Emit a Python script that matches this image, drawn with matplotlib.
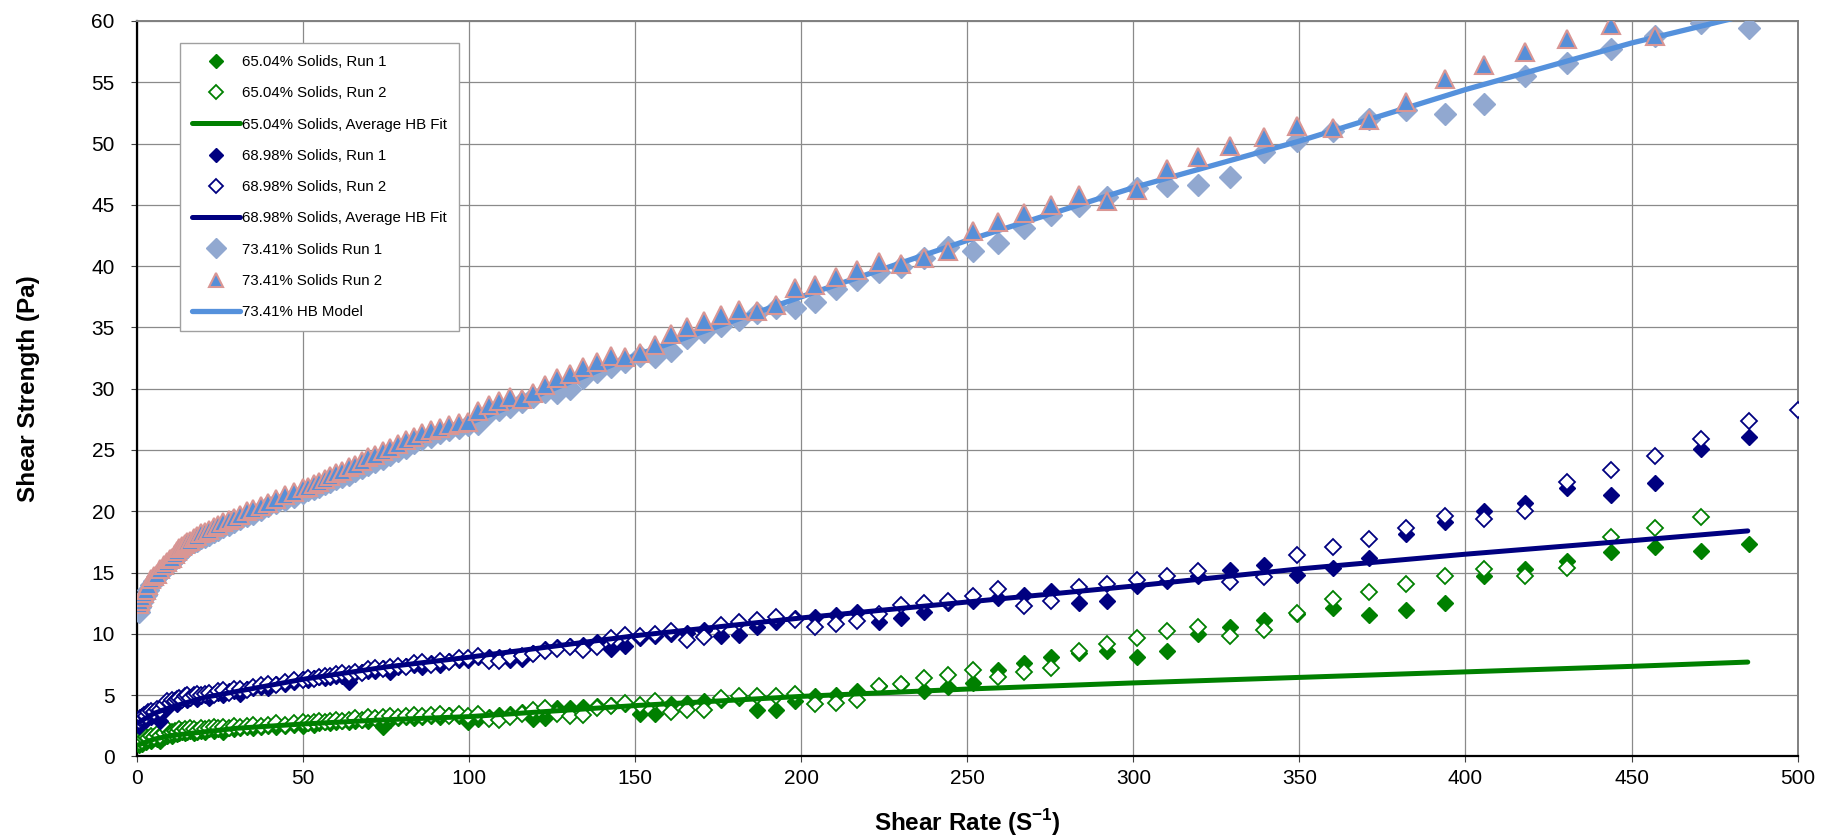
import numpy as np
import matplotlib
matplotlib.use("Agg")
import matplotlib.pyplot as plt

plt.rcParams["font.family"] = ["Liberation Sans", "DejaVu Sans"]
plt.rcParams["mathtext.fontset"] = "custom"
plt.rcParams["mathtext.rm"] = "Liberation Sans"
plt.rcParams["mathtext.bf"] = "Liberation Sans:bold"

nan = np.nan

# shear rates of the measurement steps (shared by all runs)
SHEAR_RATE = [
    0.5, 0.9, 1.4, 2.0, 2.7, 3.4, 4.2, 5.0, 6.0, 7.0, 8.0, 9.0, 10.0, 10.6, 11.3, 12.0,
    12.7, 13.5, 14.3, 15.2, 16.1, 17.1, 18.2, 19.3, 20.5, 21.7, 23.1, 24.5, 26.0, 27.6,
    29.3, 31.1, 33.0, 35.0, 37.2, 39.5, 41.9, 44.5, 47.2,
    50.1, 51.6, 53.2, 54.8, 56.5, 58.2, 60.0, 61.8, 63.7, 65.6, 67.6, 69.7, 71.8, 74.0,
    76.2, 78.5, 80.9, 83.4, 85.9, 88.5, 91.2, 94.0, 96.8, 99.7,
    102.8, 105.9, 109.1, 112.4, 115.8, 119.3, 122.9, 126.6, 130.5, 134.4, 138.5, 142.7,
    147.0, 151.5, 156.1, 160.8, 165.7, 170.7, 175.9, 181.2, 186.7, 192.3, 198.2,
    204.2, 210.4, 216.7, 223.3, 230.1, 237.0, 244.2, 251.6,
    259.3, 267.1, 275.2, 283.5, 292.1, 301.0, 310.1, 319.5, 329.2, 339.2, 349.4, 360.0,
    371.0, 382.2, 393.8, 405.7, 418.0, 430.7, 443.7, 457.2, 471.0, 485.3, 500.0,
]

S65_RUN1 = [
    0.9, 1.1, 1.0, 1.3, 1.2, 1.4, 1.3, 1.5, 1.4, 1.3, 1.6, 1.7, 1.8, 1.7, 1.9, 1.8,
    1.9, 2.0, 1.9, 2.0, 2.1, 1.9, 2.0, 2.1, 2.0, 2.2, 2.1, 2.2, 2.0, 2.3,
    2.2, 2.3, 2.4, 2.3, 2.4, 2.5, 2.4, 2.5, 2.6,
    2.5, 2.7, 2.6, 2.7, 2.8, 2.7, 2.8, 2.9, 2.8, 2.9, 3.0, 2.9, 3.1, 2.4,
    3.0, 3.1, 3.2, 3.1, 3.2, 3.3, 3.2, 3.4, 3.3, 2.85,
    3.05, 3.25, 3.4, 3.5, 3.6, 3.05, 3.1, 3.95, 3.95, 4.0, 4.1, 4.2,
    4.3, 3.5, 3.5, 4.3, 4.4, 4.5, 4.6, 4.75, 3.8, 3.8, 4.5,
    4.95, 5.0, 5.3, 5.75, 5.9, 5.3, 5.7, 6.0,
    7.05, 7.65, 8.1, 8.4, 8.6, 8.15, 8.6, 10.0, 10.6, 11.1, 11.6, 12.1,
    11.55, 11.95, 12.5, 14.7, 15.3, 15.95, 16.7, 17.1, 16.8, 17.3, nan,
]

S65_RUN2 = [
    1.2, 1.4, 1.3, 1.5, 1.6, 1.5, 1.7, 1.6, 1.8, 1.7, 1.9, 2.2, 1.9, 2.0, 2.1, 2.0,
    2.2, 2.1, 2.2, 2.1, 2.3, 2.2, 2.1, 2.3, 2.2, 2.3, 2.4, 2.3, 2.4, 2.3,
    2.5, 2.4, 2.5, 2.6, 2.5, 2.6, 2.7, 2.6, 2.7,
    2.8, 2.7, 2.8, 2.9, 2.8, 2.9, 3.0, 2.9, 3.0, 3.1, 3.0, 3.2, 3.1, 3.2,
    3.3, 3.2, 3.3, 3.4, 3.3, 3.4, 3.5, 3.3, 3.5, 3.3,
    3.5, 3.05, 3.0, 3.25, 3.5, 3.8, 3.95, 3.5, 3.3, 3.4, 3.95, 4.15,
    4.35, 4.2, 4.5, 3.65, 3.8, 3.75, 4.75, 4.9, 4.95, 4.95, 5.1,
    4.3, 4.4, 4.6, 5.75, 5.9, 6.4, 6.65, 7.05,
    6.5, 6.9, 7.25, 8.6, 9.2, 9.7, 10.2, 10.6, 9.8, 10.3, 11.7, 12.85,
    13.4, 14.05, 14.7, 15.3, 14.7, 15.35, 17.9, 18.6, 19.5, nan, nan,
]

S69_RUN1 = [
    2.5, 2.8, 3.0, 3.1, 3.0, 3.3, 3.2, 3.5, 3.4, 2.9, 3.7, 4.1, 4.3, 4.4, 4.6, 4.3,
    4.6, 4.7, 4.8, 4.6, 4.8, 4.9, 4.7, 4.9, 5.0, 4.8, 5.1, 5.2, 5.0, 5.3,
    5.3, 5.1, 5.5, 5.6, 5.7, 5.6, 5.9, 5.9, 6.1,
    6.3, 6.2, 6.4, 6.5, 6.4, 6.5, 6.6, 6.6, 6.1, 6.8, 6.9, 7.0, 7.0, 7.2,
    6.9, 7.3, 7.4, 7.5, 7.3, 7.6, 7.5, 7.8, 7.9, 7.9,
    8.15, 8.15, 8.15, 7.9, 7.95, 8.4, 8.75, 8.9, 9.0, 9.1, 9.3, 8.8,
    9.0, 9.7, 9.8, 10.0, 10.1, 10.3, 9.8, 9.9, 10.6, 11.0, 11.3,
    11.35, 11.55, 11.75, 11.0, 11.3, 11.8, 12.55, 12.7,
    12.9, 13.2, 13.5, 12.55, 12.7, 13.9, 14.3, 14.7, 15.2, 15.6, 14.8, 15.4,
    16.2, 18.15, 19.1, 20.05, 20.7, 21.9, 21.3, 22.3, 25.1, 26.1, nan,
]

S69_RUN2 = [
    2.9, 3.1, 3.2, 3.4, 3.3, 3.6, 3.7, 3.6, 3.9, 3.8, 4.2, 4.5, 4.4, 4.6, 4.5, 4.7,
    4.8, 4.6, 4.9, 5.0, 4.8, 5.0, 5.1, 5.0, 5.1, 5.2, 5.0, 5.3, 5.4, 5.2,
    5.5, 5.5, 5.4, 5.7, 5.8, 5.9, 5.8, 6.1, 6.2,
    6.2, 6.4, 6.3, 6.5, 6.6, 6.6, 6.7, 6.8, 6.7, 6.9, 6.8, 7.1, 7.2, 7.1,
    7.3, 7.4, 7.3, 7.6, 7.7, 7.5, 7.8, 7.7, 8.0, 8.0,
    8.2, 7.75, 7.75, 8.1, 8.2, 8.35, 8.6, 8.75, 8.9, 8.7, 8.9, 9.65,
    9.9, 9.85, 10.0, 10.2, 9.5, 9.75, 10.7, 11.0, 11.15, 11.35, 11.15,
    10.55, 10.8, 11.05, 11.6, 12.35, 12.55, 12.7, 13.1,
    13.7, 12.3, 12.7, 13.8, 14.1, 14.4, 14.7, 15.1, 14.2, 14.6, 16.4, 17.1,
    17.7, 18.6, 19.6, 19.4, 20.0, 22.4, 23.4, 24.5, 25.9, 27.4, 28.3,
]

S73_RUN1 = [
    11.8, 12.2, 12.6, 12.9, 13.2, 13.6, 14.0, 14.3, 14.6, 14.9, 15.2, 15.5, 15.8, 15.9,
    16.1, 16.3, 16.5, 16.8, 16.9, 17.1, 17.3, 17.5, 17.6, 17.8, 17.9, 18.1, 18.3, 18.5,
    18.7, 18.9, 19.1, 19.4, 19.6, 19.8, 20.1, 20.4, 20.7, 20.9, 21.2,
    21.5, 21.7, 21.8, 22.0, 22.2, 22.4, 22.6, 22.8, 23.0, 23.3, 23.5, 23.8, 24.0, 24.3,
    24.6, 24.9, 25.2, 25.6, 25.9, 26.1, 26.4, 26.6, 26.8, 27.0,
    27.15, 28.0, 28.3, 28.5, 28.9, 29.3, 29.7, 29.65, 30.0, 30.9, 31.4, 31.8,
    32.2, 32.65, 32.6, 33.1, 34.1, 34.6, 35.1, 35.6, 36.2, 36.6, 36.6,
    37.1, 38.1, 38.85, 39.5, 39.95, 40.65, 41.6, 41.25,
    41.9, 43.1, 44.2, 44.9, 45.6, 46.4, 46.5, 46.6, 47.3, 49.3, 50.2, 51.0,
    52.0, 52.7, 52.4, 53.2, 55.5, 56.6, 57.7, 58.8, 59.85, 59.4, nan,
]

S73_RUN2 = [
    12.4, 12.7, 13.0, 13.3, 13.6, 14.0, 14.5, 14.7, 14.9, 15.3, 15.6, 15.9, 16.1, 16.2,
    16.5, 16.8, 17.0, 17.2, 17.3, 17.5, 17.6, 17.8, 18.0, 18.2, 18.3, 18.5, 18.7, 18.9,
    19.1, 19.3, 19.45, 19.7, 20.0, 20.2, 20.45, 20.7, 21.0, 21.3, 21.6,
    21.9, 22.0, 22.2, 22.4, 22.6, 22.9, 23.1, 23.3, 23.6, 23.8, 24.1, 24.4, 24.6, 24.9,
    25.2, 25.5, 25.8, 26.1, 26.4, 26.6, 26.8, 27.0, 27.2, 27.3,
    28.2, 28.65, 29.0, 29.3, 29.2, 29.65, 30.3, 30.9, 31.2, 31.8, 32.2, 32.7,
    32.55, 32.9, 33.6, 34.5, 35.0, 35.5, 36.0, 36.4, 36.3, 36.8, 38.2,
    38.5, 39.1, 39.7, 40.3, 40.2, 40.7, 41.25, 42.9,
    43.6, 44.3, 45.0, 45.8, 45.3, 46.2, 47.9, 48.9, 49.8, 50.5, 51.4, 51.3,
    51.9, 53.4, 55.3, 56.4, 57.5, 58.5, 59.7, 58.8, nan, nan, nan,
]

# Herschel-Bulkley fit curves
FIT_RATE = [0, 5, 10, 20, 30, 50, 75, 100, 150, 200, 250, 300, 350, 400, 450, 485]
FIT_65 = [0.9, 1.4, 1.7, 2.0, 2.3, 2.65, 3.0, 3.25, 4.15, 4.9, 5.5, 6.0, 6.45, 6.9, 7.35, 7.7]
FIT_69 = [2.7, 3.5, 4.0, 4.8, 5.3, 6.3, 7.3, 8.1, 9.85, 11.3, 12.6, 13.9, 15.3, 16.5, 17.6, 18.4]
FIT_73 = [12.0, 14.4, 15.6, 17.6, 19.0, 21.6, 24.6, 27.2, 32.7, 37.5, 42.1, 46.4, 50.2, 54.4, 58.2, 60.5]

for s in (S65_RUN1, S65_RUN2, S69_RUN1, S69_RUN2, S73_RUN1, S73_RUN2):
    assert len(s) == len(SHEAR_RATE)

GREEN = "#008000"
NAVY = "#000080"
GREY_BLUE = "#91a8d0"
TRI_FILL = "#568fd8"
TRI_EDGE = "#d99694"
HB_BLUE = "#5591dc"

fig = plt.figure(figsize=(18.22, 8.38), dpi=100)
ax = fig.add_axes([0.0752, 0.0973, 0.9114, 0.8777])

x = np.array(SHEAR_RATE)
dkw = dict(ls="none", marker="D", ms=8.5)

ax.plot(x, S65_RUN1, color=GREEN, mec=GREEN, mfc=GREEN, label="65.04% Solids, Run 1", zorder=3, **dkw)
ax.plot(x, S65_RUN2, color=GREEN, mec=GREEN, mfc="white", mew=1.3, label="65.04% Solids, Run 2", zorder=3, **dkw)
ax.plot(FIT_RATE, FIT_65, color=GREEN, lw=3.6, solid_capstyle="round",
        label="65.04% Solids, Average HB Fit", zorder=4)
ax.plot(x, S69_RUN1, color=NAVY, mec=NAVY, mfc=NAVY, label="68.98% Solids, Run 1", zorder=3, **dkw)
ax.plot(x, S69_RUN2, color=NAVY, mec=NAVY, mfc="white", mew=1.3, label="68.98% Solids, Run 2", zorder=3, **dkw)
ax.plot(FIT_RATE, FIT_69, color=NAVY, lw=3.6, solid_capstyle="round",
        label="68.98% Solids, Average HB Fit", zorder=4)
ax.plot(x, S73_RUN1, ls="none", marker="D", ms=11.5, color=GREY_BLUE, mec=GREY_BLUE,
        label="73.41% Solids Run 1", zorder=3)
ax.plot(x, S73_RUN2, ls="none", marker="^", ms=12.5, mfc=TRI_FILL, mec=TRI_EDGE, mew=1.5,
        label="73.41% Solids Run 2", zorder=5)
ax.plot(FIT_RATE, FIT_73, color=HB_BLUE, lw=3.8, solid_capstyle="round",
        label="73.41% HB Model", zorder=4)

ax.set_xlim(0, 500)
ax.set_ylim(0, 60)
ax.set_xticks(np.arange(0, 501, 50))
ax.set_yticks(np.arange(0, 61, 5))
ax.grid(True, color="#8a8a8a", lw=0.9, zorder=0)
ax.set_axisbelow(True)
ax.tick_params(axis="both", labelsize=15, length=4, color="#404040")
ax.tick_params(axis="y", pad=12)
ax.tick_params(axis="x", pad=5)

for side in ("left", "bottom"):
    ax.spines[side].set_color("black")
    ax.spines[side].set_linewidth(1.6)
for side in ("top", "right"):
    ax.spines[side].set_color("#808080")
    ax.spines[side].set_linewidth(1.4)

ax.set_ylabel("Shear Strength (Pa)", fontsize=17.5, fontweight="bold")
ax.set_xlabel("Shear Rate (S$^{\\mathbf{-1}}$)", fontsize=17.5, fontweight="bold")
ax.yaxis.set_label_coords(-0.0655, 0.5)
ax.xaxis.set_label_coords(0.5, -0.09)
ax.xaxis.label.set_va("center")
ax.yaxis.label.set_va("center")

leg = ax.legend(loc="upper left", bbox_to_anchor=(0.026, 0.970), borderaxespad=0,
                fontsize=10.8, labelspacing=1.15, handlelength=3.2, handletextpad=0.1,
                markerscale=0.85, fancybox=False, framealpha=1, edgecolor="#a0a0a0",
                borderpad=0.8)
leg.get_frame().set_linewidth(1.0)
leg.set_zorder(10)

fig.savefig("out.png", dpi=100, facecolor="white")
